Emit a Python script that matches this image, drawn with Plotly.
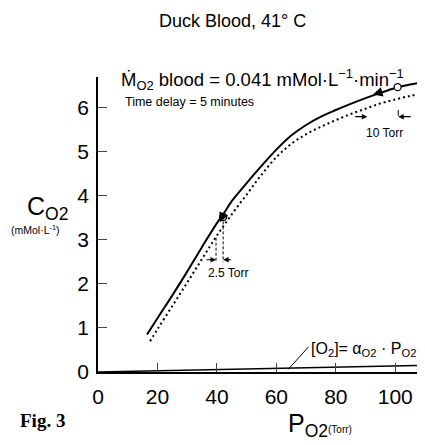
import plotly.graph_objects as go

# --- data ---
po2_solid = [16.5, 20, 25, 30, 35, 40, 42, 45, 50, 55, 60, 65, 70, 75, 80, 85, 90, 95, 100, 105, 110]
c_solid = [0.85, 1.22, 1.74, 2.28, 2.84, 3.38, 3.57, 3.88, 4.29, 4.68, 5.05, 5.37, 5.61, 5.8, 5.95, 6.09, 6.22, 6.34, 6.45, 6.53, 6.59]

po2_dotted = [17.5, 20, 25, 30, 35, 40, 45, 50, 55, 60, 65, 70, 75, 80, 85, 90, 95, 100, 105, 110]
c_dotted = [0.7, 0.97, 1.5, 2.03, 2.57, 3.1, 3.58, 4.03, 4.48, 4.88, 5.18, 5.4, 5.57, 5.72, 5.86, 5.98, 6.1, 6.19, 6.27, 6.33]

alpha_o2 = 0.0014
po2_dissolved = [0, 110]
c_dissolved = [alpha_o2 * p for p in po2_dissolved]

circle_po2 = [42.1, 100.8]
circle_c = [3.52, 6.47]

x_ticks = [0, 20, 40, 60, 80, 100]
y_ticks = [0, 1, 2, 3, 4, 5, 6]

FONT = "Liberation Sans"

# page offset (body margin) compensation
OFF = 8
W, H = 425 - OFF, 445 - OFF
ML, MR, MT, MB = 98 - OFF, 0, 77 - OFF, 73
PX0, PX1 = 98, 425      # plot area in screen pixels
PY0, PY1 = 77, 372

fig = go.Figure()
fig.add_trace(go.Scatter(x=po2_solid, y=c_solid, mode="lines", line=dict(color="black", width=2), line_shape="spline", hoverinfo="skip"))
fig.add_trace(go.Scatter(x=po2_dotted, y=c_dotted, mode="lines", line=dict(color="black", width=2, dash="2px,3px"), line_shape="spline", hoverinfo="skip"))
fig.add_trace(go.Scatter(x=po2_dissolved, y=c_dissolved, mode="lines", line=dict(color="black", width=1.5), hoverinfo="skip"))
fig.add_trace(go.Scatter(x=circle_po2, y=circle_c, mode="markers", marker=dict(symbol="circle", size=7, color="white", line=dict(color="black", width=1.3)), hoverinfo="skip"))

shapes = []
for xv, y0, y1 in [(39.7, 3.05, 2.5), (42.1, 3.42, 2.5)]:
    shapes.append(dict(type="line", x0=xv, x1=xv, y0=y0, y1=y1, line=dict(color="black", width=1, dash="3px,2px")))
shapes.append(dict(type="line", x0=101, x1=101, y0=5.95, y1=5.82, line=dict(color="black", width=1)))
shapes.append(dict(type="line", x0=64, x1=70.8, y0=0.06, y1=0.57, line=dict(color="black", width=1)))

annotations = []
def arrow(x, y, ax, ay, w=1.1, size=1.0):
    annotations.append(dict(x=x, y=y, ax=ax, ay=ay, xref="x", yref="y", axref="x", ayref="y",
                            showarrow=True, arrowhead=2, arrowsize=size, arrowwidth=w, arrowcolor="black", text=""))
arrow(39.7, 2.55, 36.0, 2.55)
arrow(42.1, 2.55, 45.3, 2.55)
arrow(90.6, 5.8, 86.0, 5.8)
arrow(101.0, 5.8, 105.7, 5.8)
arrow(41.0, 3.40, 42.0, 3.55, w=1.6, size=1.2)
arrow(92.5, 6.30, 95.5, 6.36, w=1.6, size=1.2)

def ptext(xp, yp, s, size, xanchor="left", family=FONT):
    x = (xp - PX0) / (PX1 - PX0)
    y = (PY1 - yp) / (PY1 - PY0)
    annotations.append(dict(x=x, y=y, xref="paper", yref="paper", text=s, showarrow=False,
                            xanchor=xanchor, yanchor="middle", font=dict(family=family, size=size, color="black")))

ptext(232, 21, "Duck Blood, 41° C", 18, xanchor="center")
ptext(119, 79, "Ṁ<sub>O2</sub> blood = 0.041 mMol·L<sup>−1</sup>·min<sup>−1</sup>", 18.5)
ptext(123, 102, "Time delay = 5 minutes", 12.5)
ptext(206, 273, "2.5 Torr", 12)
ptext(364, 133, "10 Torr", 12)
ptext(309, 349, "[O<sub>2</sub>]= α<sub>O2</sub> · P<sub>O2</sub>", 16)
ptext(25, 208, "C<sub>O2</sub>", 25)
ptext(9, 229, "(mMol·L<sup>-1</sup>)", 10.5)
ptext(286, 425, "P<sub>O2</sub>", 25)
ptext(326, 429, "(Torr)", 10)
ptext(18, 420, "<b>Fig. 3</b>", 19, family="Liberation Serif")

fig.update_layout(
    width=W, height=H,
    margin=dict(l=ML, r=MR, t=MT, b=MB),
    paper_bgcolor="white", plot_bgcolor="white",
    showlegend=False,
    shapes=shapes, annotations=annotations,
    xaxis=dict(range=[0, 110], tickvals=x_ticks, ticks="inside", ticklen=9, tickwidth=1.3,
               showline=True, linewidth=2, linecolor="black", showgrid=False, zeroline=False,
               tickfont=dict(family=FONT, size=21, color="black"), ticklabelstandoff=5),
    yaxis=dict(range=[0, 6.7], tickvals=y_ticks, ticks="inside", ticklen=9, tickwidth=1.3,
               showline=True, linewidth=1.5, linecolor="black", showgrid=False, zeroline=False,
               tickfont=dict(family=FONT, size=21, color="black"), ticklabelstandoff=3),
)

fig.write_html("out.html")
